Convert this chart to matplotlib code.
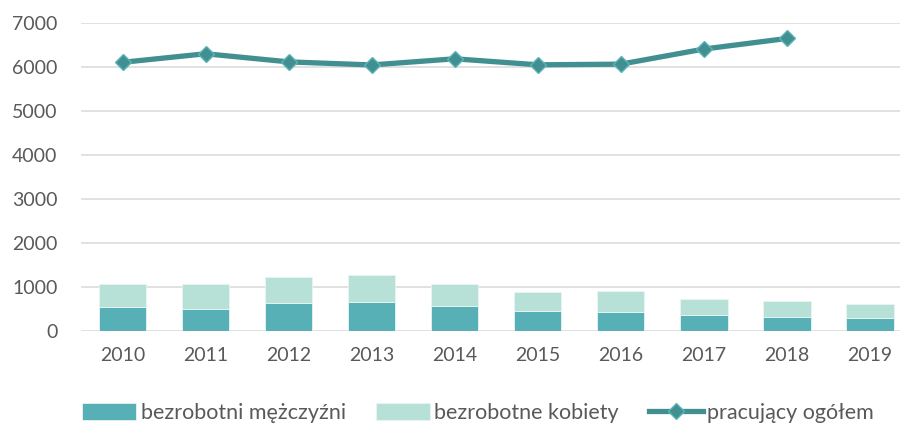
import numpy as np
import matplotlib.pyplot as plt

# dane (tys.)
years = ['2010', '2011', '2012', '2013', '2014', '2015', '2016', '2017', '2018', '2019']
men_unemployed = [530, 500, 627, 650, 559, 439, 423, 355, 309, 286]
women_unemployed = [538, 552, 591, 607, 500, 447, 470, 372, 357, 319]
employed_total = [6105, 6300, 6115, 6045, 6185, 6048, 6063, 6407, 6648]

c_men = '#56b0b5'
c_women = '#b7e1d7'
c_line = '#418f90'
c_text = '#595959'

plt.rcParams['font.family'] = ['Lato', 'DejaVu Sans']

fig = plt.figure(figsize=(9.01, 4.26), dpi=100)
ax = fig.add_axes([81 / 901, (426 - 330.5) / 426, (900 - 81) / 901, (330.5 - 23) / 426])

x = np.arange(len(years))
b1 = ax.bar(x, men_unemployed, width=0.57, color=c_men, edgecolor='#e8f5f4', linewidth=0.6,
            label='bezrobotni mężczyźni', zorder=2)
b2 = ax.bar(x, women_unemployed, width=0.57, bottom=men_unemployed, color=c_women,
            edgecolor='#e8f5f4', linewidth=0.6, label='bezrobotne kobiety', zorder=2)
ln, = ax.plot(x[:len(employed_total)], employed_total, color=c_line, linewidth=3.8,
              marker='D', markersize=8, markerfacecolor=c_line, markeredgecolor='#5ab4b8',
              markeredgewidth=1.0, label='pracujący ogółem', zorder=3)

ax.set_ylim(0, 7000)
ax.set_yticks(range(0, 7001, 1000))
ax.set_xlim(-0.5, -0.5 + (900 - 80.5) / 83.1)
ax.set_xticks(x)
ax.set_xticklabels(years)
ax.grid(axis='y', color='#d9d9d9', linewidth=1.1, zorder=0)
ax.set_axisbelow(True)
for s in ax.spines.values():
    s.set_visible(False)
ax.tick_params(axis='both', length=0, labelsize=14, colors=c_text)
ax.tick_params(axis='y', pad=17)
ax.tick_params(axis='x', pad=12)

leg = fig.legend([b1, b2, ln], ['bezrobotni mężczyźni', 'bezrobotne kobiety', 'pracujący ogółem'],
                 loc='center', bbox_to_anchor=(478 / 901, 1 - 413 / 426), ncol=3,
                 frameon=False, fontsize=15.5, handlelength=2.5, handleheight=0.8,
                 handletextpad=0.2, columnspacing=1.4)
for t in leg.get_texts():
    t.set_color(c_text)

fig.savefig('out.png', dpi=100)
